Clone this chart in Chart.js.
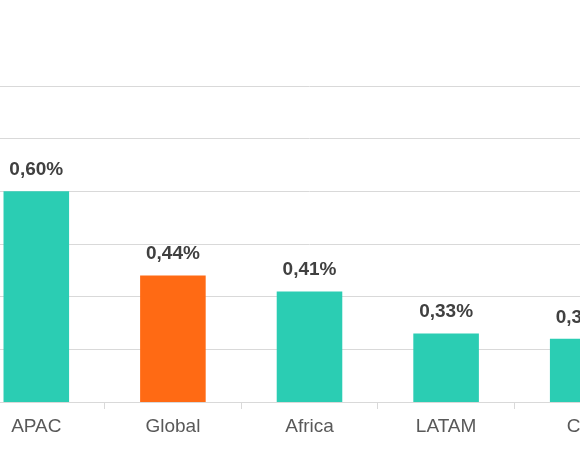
<!DOCTYPE html>
<html>
<head>
<meta charset="utf-8">
<script src="https://cdn.jsdelivr.net/npm/chart.js@4"></script>
<style>
  html, body { margin: 0; padding: 0; background: #fff; overflow: hidden; }
  #wrap { position: absolute; left: -32px; top: 0; width: 683px; height: 460px; }
</style>
</head>
<body>
<div id="wrap"><canvas id="myChart"></canvas></div>
<script>
const categories = ['APAC', 'Global', 'Africa', 'LATAM', 'CIS'];
const values = [0.60, 0.44, 0.41, 0.33, 0.32];
const barColors = ['#2bcdb3', '#ff6a14', '#2bcdb3', '#2bcdb3', '#2bcdb3'];

const valueLabels = {
  id: 'valueLabels',
  afterDatasetsDraw(chart) {
    const ctx = chart.ctx;
    ctx.save();
    ctx.font = 'bold 19px "Liberation Sans", Arial';
    ctx.fillStyle = '#404040';
    ctx.textAlign = 'center';
    ctx.textBaseline = 'bottom';
    chart.getDatasetMeta(0).data.forEach((bar, i) => {
      ctx.fillText(values[i].toFixed(2).replace('.', ',') + '%', bar.x, bar.y - 12);
    });
    ctx.restore();
  }
};

new Chart(document.getElementById('myChart'), {
  type: 'bar',
  data: {
    labels: categories,
    datasets: [{ data: values, backgroundColor: barColors, categoryPercentage: 1, barPercentage: 0.48 }]
  },
  options: {
    responsive: true,
    maintainAspectRatio: false,
    animation: false,
    layout: { padding: { top: 86, left: 0, right: 0, bottom: 0 } },
    plugins: { legend: { display: false }, tooltip: { enabled: false } },
    scales: {
      x: {
        grid: { drawOnChartArea: false, tickLength: 7, color: '#d9d9d9', offset: true },
        border: { color: '#d9d9d9' },
        ticks: { color: '#595959', font: { family: '"Liberation Sans", Arial', size: 19 }, padding: 6 },
        afterFit(scale) { scale.height = 58; }
      },
      y: {
        min: 0.2, max: 0.8,
        ticks: { stepSize: 0.1, display: false },
        grid: { color: '#d9d9d9', drawTicks: false },
        border: { display: false },
        afterFit(scale) { scale.width = 0; }
      }
    }
  },
  plugins: [valueLabels]
});
</script>
</body>
</html>
